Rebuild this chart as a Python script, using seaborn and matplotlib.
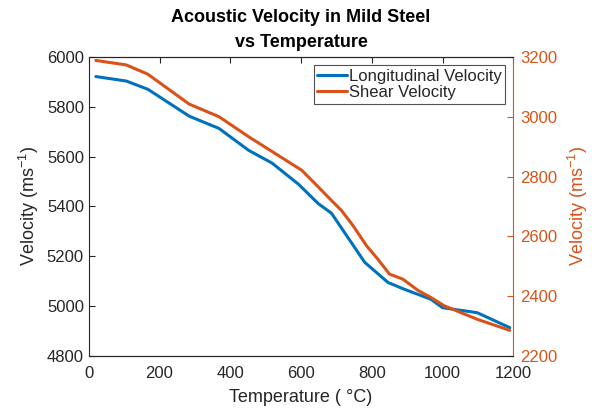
import numpy as np
import pandas as pd
import matplotlib
matplotlib.use("Agg")
import matplotlib.pyplot as plt
import seaborn as sns

# ── Data ─────────────────────────────────────────────────────
temp_long = [20, 106, 167, 284, 368, 452, 518, 593, 649, 686, 780, 846, 892, 967, 1000, 1098, 1190]
vel_long  = [5921, 5903, 5870, 5762, 5713, 5625, 5574, 5489, 5411, 5373, 5176, 5095, 5068, 5028, 4994, 4974, 4914]

temp_shear = [20, 106, 167, 284, 368, 452, 527, 602, 649, 686, 714, 747, 785, 817, 850, 888, 930, 967, 1005, 1098, 1190]
vel_shear  = [3188, 3173, 3142, 3042, 3000, 2933, 2877, 2821, 2765, 2720, 2687, 2636, 2569, 2524, 2474, 2457, 2420, 2396, 2368, 2323, 2286]

BLUE   = "#0072BD"
ORANGE = "#D95319"
TXT    = "#262626"

sns.set_style("white")
plt.rcParams["font.family"] = ["Liberation Sans", "DejaVu Sans"]
plt.rcParams["mathtext.fontset"] = "custom"
plt.rcParams["mathtext.rm"] = "Liberation Sans"
plt.rcParams["xtick.direction"] = "in"
plt.rcParams["ytick.direction"] = "in"

df_long  = pd.DataFrame({"T": temp_long, "V": vel_long})
df_shear = pd.DataFrame({"T": temp_shear, "V": vel_shear})

fig = plt.figure(figsize=(5.92, 4.15), dpi=100)
ax = fig.add_axes([0.150, 0.142, 0.717, 0.721])
ax2 = ax.twinx()

sns.lineplot(data=df_long, x="T", y="V", ax=ax, color=BLUE, linewidth=2.2,
             label="Longitudinal Velocity", legend=False)
sns.lineplot(data=df_shear, x="T", y="V", ax=ax2, color=ORANGE, linewidth=2.2,
             label="Shear Velocity", legend=False)

ax.set_xlim(0, 1200)
ax.set_ylim(4800, 6000)
ax2.set_ylim(2200, 3200)
ax.set_xticks(np.arange(0, 1201, 200))
ax.set_yticks(np.arange(4800, 6001, 200))
ax2.set_yticks(np.arange(2200, 3201, 200))

ax.set_xlabel("Temperature ( °C)", fontsize=13, color=TXT, labelpad=6)
ax.set_ylabel("Velocity (ms$^{-1}$)", fontsize=13, color=TXT, labelpad=4)
ax2.set_ylabel("Velocity (ms$^{-1}$)", fontsize=13, color=ORANGE, labelpad=6)
ax.set_title("Acoustic Velocity in Mild Steel\nvs Temperature", fontsize=13,
             fontweight="bold", color="black", pad=7, linespacing=1.6)

ax.tick_params(axis="x", pad=7)
ax.tick_params(axis="both", labelsize=12, colors=TXT, length=4, top=True)
ax.tick_params(axis="y", right=False)
ax2.tick_params(axis="y", labelsize=12, colors=ORANGE, length=4, pad=5)

for s in ["left", "bottom", "top"]:
    ax.spines[s].set_color(TXT)
    ax2.spines[s].set_color(TXT)
ax.spines["right"].set_visible(False)
ax2.spines["right"].set_color(ORANGE)
ax2.spines["left"].set_visible(False)

h1, l1 = ax.get_legend_handles_labels()
h2, l2 = ax2.get_legend_handles_labels()
leg = ax2.legend(h1 + h2, l1 + l2, loc="upper right", fontsize=12,
                 frameon=True, fancybox=False, edgecolor=TXT,
                 borderpad=0.2, handlelength=1.8, handletextpad=0.1,
                 labelspacing=0.1, borderaxespad=0.5)
leg.get_frame().set_linewidth(0.8)

plt.savefig("out.png", dpi=100)
